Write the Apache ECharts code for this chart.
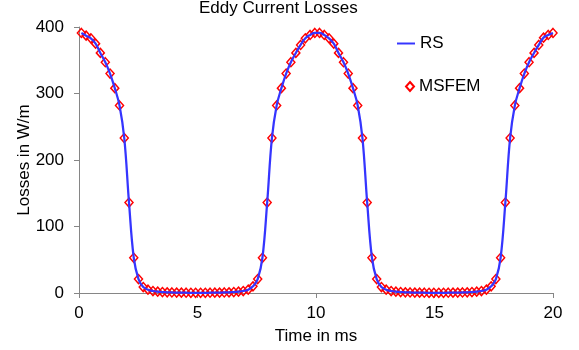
<!DOCTYPE html>
<html>
<head>
<meta charset="utf-8">
<script src="https://cdn.jsdelivr.net/npm/echarts@6/dist/echarts.min.js"></script>
<style>
  html, body { margin: 0; padding: 0; background: #fff; }
  #chart { width: 579px; height: 350px; }
</style>
</head>
<body>
<div id="chart"></div>
<script>
// time stamps in ms (simulation output)
const timeMs = [
  0.10, 0.30, 0.50, 0.70, 0.90, 1.11, 1.31, 1.51, 1.71, 1.91,
  2.11, 2.31, 2.51, 2.71, 2.91, 3.12, 3.32, 3.52, 3.72, 3.92,
  4.12, 4.32, 4.52, 4.72, 4.92, 5.13, 5.33, 5.53, 5.73, 5.93,
  6.13, 6.33, 6.53, 6.73, 6.93, 7.14, 7.34, 7.54, 7.74, 7.94,
  8.14, 8.34, 8.54, 8.74, 8.94, 9.15, 9.35, 9.55, 9.75, 9.95,
  10.15, 10.35, 10.55, 10.75, 10.95, 11.16, 11.36, 11.56, 11.76, 11.96,
  12.16, 12.36, 12.56, 12.76, 12.96, 13.17, 13.37, 13.57, 13.77, 13.97,
  14.17, 14.37, 14.57, 14.77, 14.97, 15.18, 15.38, 15.58, 15.78, 15.98,
  16.18, 16.38, 16.58, 16.78, 16.98, 17.19, 17.39, 17.59, 17.79, 17.99,
  18.19, 18.39, 18.59, 18.79, 18.99, 19.20, 19.40, 19.60, 19.80, 20.00
];

// losses in W/m, reference solution
const rsLoss = [
  391, 387, 383, 375, 361, 347, 330, 308, 282, 233,
  136, 53, 21, 9, 5, 3, 2, 1.5, 1, 0.8,
  0.6, 0.5, 0.4, 0.3, 0.3, 0.3, 0.3, 0.4, 0.5, 0.6,
  0.8, 1, 1.5, 2, 3, 5, 10, 21, 53, 136,
  233, 282, 308, 330, 347, 361, 373, 383, 388, 391,
  391, 388, 383, 375, 361, 347, 330, 308, 282, 233,
  136, 53, 21, 9, 5, 3, 2, 1.5, 1, 0.8,
  0.6, 0.5, 0.4, 0.3, 0.3, 0.3, 0.3, 0.4, 0.5, 0.6,
  0.8, 1, 1.5, 2, 3, 5, 10, 21, 53, 136,
  233, 282, 308, 330, 347, 361, 373, 384, 388, 391
];

// losses in W/m, MSFEM
const msfemLoss = [
  391, 387, 383, 375, 361, 347, 330, 308, 282, 233,
  136, 53, 21, 9, 5, 3, 2, 1.5, 1, 0.8,
  0.6, 0.5, 0.4, 0.3, 0.3, 0.3, 0.3, 0.4, 0.5, 0.6,
  0.8, 1, 1.5, 2, 3, 5, 10, 21, 53, 136,
  233, 282, 308, 330, 347, 361, 373, 383, 388, 391,
  391, 388, 383, 375, 361, 347, 330, 308, 282, 233,
  136, 53, 21, 9, 5, 3, 2, 1.5, 1, 0.8,
  0.6, 0.5, 0.4, 0.3, 0.3, 0.3, 0.3, 0.4, 0.5, 0.6,
  0.8, 1, 1.5, 2, 3, 5, 10, 21, 53, 136,
  233, 282, 308, 330, 347, 361, 373, 384, 388, 391
];

const lineColor = '#3535FF';
const markColor = '#FF0000';
const axisColor = '#868686';
const font = "'Liberation Sans', Arial, sans-serif";

const chart = echarts.init(document.getElementById('chart'), null, { renderer: 'canvas' });

const legendText = { fontFamily: font, fontSize: 17, color: '#000' };

const option = {
  animation: false,
  textStyle: { fontFamily: font, color: '#000' },
  title: {
    text: 'Eddy Current Losses',
    left: 199,
    top: 0,
    padding: 0,
    textStyle: { fontFamily: font, fontSize: 17, fontWeight: 'normal', color: '#000' },
  },
  // two legends so each icon can have its own box size
  legend: [
    {
      data: [{ name: 'RS', icon: 'path://M0,4L20,4L20,6.2L0,6.2Z' }],
      left: 397,
      top: 35,
      padding: 0,
      itemWidth: 18,
      itemHeight: 10,
      textStyle: legendText,
    },
    {
      data: [{ name: 'MSFEM', icon: 'diamond' }],
      left: 405,
      top: 78,
      padding: 0,
      itemWidth: 8,
      itemHeight: 9,
      textStyle: legendText,
    },
  ],
  grid: {
    left: 79,
    right: 26,
    top: 27,
    bottom: 57,
    containLabel: false,
    outerBoundsMode: 'none',
  },
  xAxis: {
    type: 'value',
    min: 0,
    max: 20,
    interval: 5,
    name: 'Time in ms',
    nameLocation: 'middle',
    nameGap: 35,
    nameMoveOverlap: false,
    nameTextStyle: { fontFamily: font, fontSize: 17, color: '#000' },
    axisLine: { show: true, lineStyle: { color: axisColor, width: 1 } },
    axisTick: { show: true, length: 5, lineStyle: { color: axisColor } },
    axisLabel: { fontFamily: font, fontSize: 17, color: '#000', margin: 12 },
    splitLine: { show: false },
  },
  yAxis: {
    type: 'value',
    min: 0,
    max: 400,
    interval: 100,
    name: 'Losses in W/m',
    nameLocation: 'middle',
    nameGap: 46,
    nameMoveOverlap: false,
    nameTextStyle: { fontFamily: font, fontSize: 17, color: '#000' },
    axisLine: { show: true, lineStyle: { color: axisColor, width: 1 } },
    axisTick: { show: true, length: 5, lineStyle: { color: axisColor } },
    axisLabel: { fontFamily: font, fontSize: 17, color: '#000', margin: 15 },
    splitLine: { show: false },
  },
  series: [
    {
      name: 'MSFEM',
      type: 'scatter',
      data: timeMs.map((t, i) => [t, msfemLoss[i]]),
      symbol: 'diamond',
      symbolSize: [8, 9],
      itemStyle: {
        color: 'rgba(255,255,255,0)',
        borderColor: markColor,
        borderWidth: 1.5,
        opacity: 1,
      },
      z: 2,
    },
    {
      name: 'RS',
      type: 'line',
      data: timeMs.map((t, i) => [t, rsLoss[i]]),
      smooth: 0.4,
      showSymbol: false,
      symbol: 'none',
      color: lineColor,
      lineStyle: { color: lineColor, width: 2.25 },
      z: 3,
    },
  ],
};

chart.setOption(option);
</script>
</body>
</html>
